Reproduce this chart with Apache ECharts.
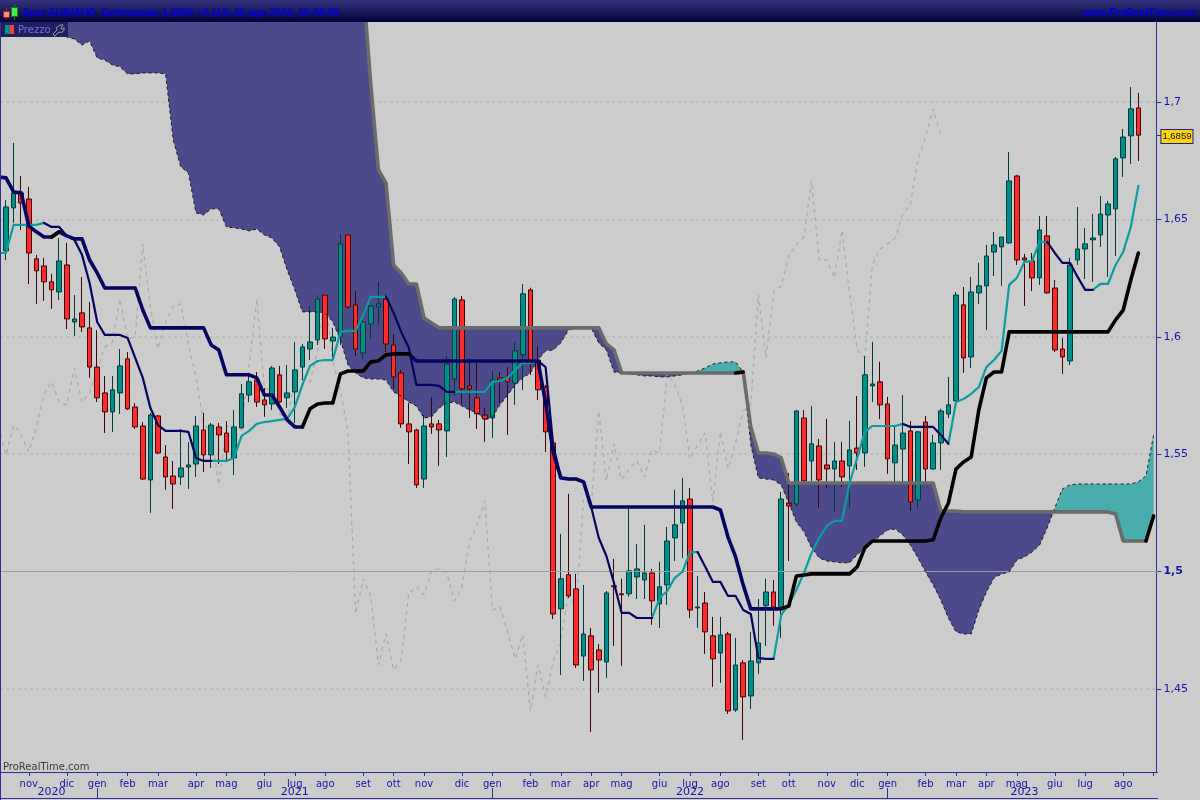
<!DOCTYPE html>
<html><head><meta charset="utf-8"><style>html,body{margin:0;padding:0;background:#ccc;overflow:hidden}#c{width:1200px;height:800px}</style>
<script src="https://cdn.jsdelivr.net/npm/echarts@6/dist/echarts.min.js"></script></head><body><div id="c"></div>
<script>
const open=[1.6366,1.6549,1.6613,1.6587,1.6332,1.6302,1.6234,1.6191,1.6306,1.6063,
1.6102,1.6038,1.5871,1.5761,1.5680,1.5761,1.5906,1.5701,1.5620,1.5390,
1.5663,1.5488,1.5407,1.5403,1.5445,1.5458,1.5603,1.5497,1.5616,1.5590,
1.5484,1.5612,1.5752,1.5816,1.5731,1.5714,1.5838,1.5740,1.5765,1.5871,
1.5948,1.5987,1.6178,1.5982,1.5999,1.6434,1.6136,1.5931,1.6055,1.6127,
1.6161,1.5965,1.5846,1.5629,1.5603,1.5394,1.5629,1.5629,1.5599,1.5820,
1.6157,1.5791,1.5740,1.5667,1.5654,1.5825,1.5825,1.5803,1.5923,1.6200,
1.5901,1.5786,1.5548,1.4841,1.4986,1.4926,1.4640,1.4726,1.4666,1.4615,
1.4939,1.4905,1.4905,1.4977,1.4964,1.4994,1.4862,1.4943,1.5143,1.5207,
1.5309,1.4845,1.4866,1.4726,1.4653,1.4734,1.4410,1.4611,1.4470,1.4611,
1.4854,1.4913,1.4849,1.5292,1.5288,1.5654,1.5471,1.5535,1.5454,1.5437,
1.5471,1.5450,1.5526,1.5505,1.5791,1.5808,1.5714,1.5463,1.5522,1.5599,
1.5305,1.5637,1.5437,1.5548,1.5671,1.5727,1.6136,1.5914,1.6187,1.6217,
1.6361,1.6383,1.6400,1.6685,1.6336,1.6323,1.6251,1.6430,1.6208,1.5948,
1.5897,1.6327,1.6374,1.6413,1.6434,1.6519,1.6545,1.6762,1.6856,1.6975];
const close=[1.6553,1.6613,1.6570,1.6357,1.6281,1.6234,1.6200,1.6323,1.6076,1.6076,
1.6042,1.5871,1.5740,1.5680,1.5774,1.5876,1.5693,1.5616,1.5394,1.5667,
1.5505,1.5403,1.5373,1.5441,1.5454,1.5620,1.5497,1.5624,1.5582,1.5509,
1.5616,1.5757,1.5808,1.5722,1.5710,1.5867,1.5722,1.5761,1.5859,1.5957,
1.5978,1.6161,1.5991,1.5999,1.6396,1.6127,1.5948,1.6063,1.6131,1.6140,
1.5969,1.5829,1.5629,1.5595,1.5369,1.5620,1.5616,1.5603,1.5884,1.6161,
1.5778,1.5778,1.5672,1.5650,1.5816,1.5816,1.5808,1.5940,1.6183,1.5897,
1.5774,1.5595,1.4819,1.4969,1.4896,1.4602,1.4734,1.4581,1.4623,1.4909,
1.4935,1.4901,1.5003,1.5011,1.4994,1.4875,1.4935,1.5130,1.5199,1.5301,
1.4836,1.4849,1.4743,1.4628,1.4730,1.4406,1.4602,1.4466,1.4619,1.4696,
1.4913,1.4849,1.5309,1.5279,1.5684,1.5386,1.5544,1.5390,1.5437,1.5471,
1.5403,1.5518,1.5505,1.5838,1.5799,1.5710,1.5480,1.5539,1.5590,1.5296,
1.5595,1.5437,1.5548,1.5684,1.5710,1.6178,1.5910,1.6191,1.6217,1.6344,
1.6391,1.6425,1.6664,1.6327,1.6327,1.6251,1.6455,1.6187,1.5944,1.5914,
1.6306,1.6374,1.6396,1.6421,1.6523,1.6566,1.6758,1.6851,1.6971,1.6859];
const low=[1.6327,1.6485,1.6455,1.6225,1.6140,1.6153,1.6119,1.6157,1.6033,1.6004,
1.6021,1.5825,1.5722,1.5590,1.5595,1.5671,1.5688,1.5607,1.5390,1.5250,
1.5501,1.5348,1.5267,1.5369,1.5352,1.5403,1.5424,1.5441,1.5458,1.5467,
1.5411,1.5610,1.5722,1.5701,1.5659,1.5688,1.5718,1.5697,1.5633,1.5816,
1.5901,1.5965,1.5948,1.5910,1.5965,1.6119,1.5918,1.5906,1.5991,1.6051,
1.5935,1.5778,1.5612,1.5458,1.5356,1.5356,1.5586,1.5450,1.5488,1.5748,
1.5714,1.5654,1.5607,1.5552,1.5569,1.5718,1.5582,1.5710,1.5774,1.5838,
1.5731,1.5509,1.4798,1.4559,1.4887,1.4589,1.4534,1.4317,1.4483,1.4547,
1.4683,1.4598,1.4892,1.4883,1.4883,1.4773,1.4760,1.4858,1.5045,1.5058,
1.4802,1.4760,1.4649,1.4509,1.4526,1.4393,1.4402,1.4283,1.4415,1.4564,
1.4683,1.4769,1.4717,1.5045,1.5275,1.5377,1.5386,1.5271,1.5356,1.5254,
1.5360,1.5271,1.5433,1.5446,1.5722,1.5650,1.5416,1.5377,1.5377,1.5258,
1.5267,1.5382,1.5433,1.5433,1.5654,1.5718,1.5846,1.5867,1.6140,1.6029,
1.6259,1.6217,1.6396,1.6306,1.6131,1.6195,1.6221,1.6183,1.5935,1.5842,
1.5880,1.6306,1.6246,1.6234,1.6383,1.6255,1.6344,1.6681,1.6736,1.6749];
const high=[1.6583,1.6826,1.6685,1.6639,1.6349,1.6336,1.6268,1.6421,1.6400,1.6178,
1.6255,1.6148,1.6029,1.5833,1.5833,1.5948,1.5935,1.5718,1.5637,1.5676,
1.5667,1.5539,1.5471,1.5607,1.5552,1.5663,1.5676,1.5633,1.5633,1.5641,
1.5688,1.5799,1.5846,1.5850,1.5782,1.5875,1.5876,1.5880,1.5978,1.5969,
1.6131,1.6178,1.6182,1.6038,1.6438,1.6436,1.6195,1.6068,1.6135,1.6234,
1.6183,1.6012,1.5859,1.5718,1.5608,1.5667,1.5744,1.5646,1.5918,1.6170,
1.6174,1.5906,1.5889,1.5697,1.5854,1.5850,1.5871,1.5978,1.6225,1.6209,
1.5961,1.5795,1.5582,1.5160,1.5331,1.4990,1.4943,1.4760,1.4692,1.4917,
1.5054,1.4969,1.5275,1.5117,1.5199,1.5011,1.5041,1.5190,1.5348,1.5399,
1.5356,1.4981,1.4913,1.4807,1.4807,1.4743,1.4717,1.4623,1.4743,1.4883,
1.4969,1.4964,1.5339,1.5420,1.5688,1.5688,1.5705,1.5565,1.5650,1.5552,
1.5552,1.5642,1.5748,1.5918,1.5978,1.5893,1.5744,1.5616,1.5752,1.5641,
1.5599,1.5663,1.5582,1.5693,1.5829,1.6191,1.6212,1.6255,1.6315,1.6391,
1.6447,1.6425,1.6787,1.6690,1.6353,1.6357,1.6515,1.6515,1.6242,1.5995,
1.6336,1.6553,1.6464,1.6523,1.6600,1.6579,1.6766,1.6885,1.7064,1.7039];
const tenkanLead=1.6357,kijunLead=1.6681,senkouALead=1.7371,senkouBLead=1.79;
const tenkan=[1.6357,1.6477,1.6477,1.6477,1.6477,1.6485,1.6468,1.6468,1.6430,1.6413,
1.6349,1.6229,1.6063,1.6008,1.6008,1.6008,1.5995,1.5910,1.5825,1.5697,
1.5624,1.5599,1.5599,1.5599,1.5595,1.5484,1.5471,1.5471,1.5471,1.5471,
1.5484,1.5578,1.5599,1.5629,1.5637,1.5641,1.5646,1.5650,1.5701,1.5795,
1.5876,1.5897,1.5901,1.5901,1.6021,1.6025,1.6025,1.6093,1.6170,1.6170,
1.6170,1.6102,1.6021,1.5953,1.5795,1.5795,1.5795,1.5791,1.5765,1.5765,
1.5765,1.5765,1.5765,1.5765,1.5808,1.5812,1.5825,1.5859,1.5889,1.5889,
1.5897,1.5871,1.5539,1.5399,1.5394,1.5394,1.5382,1.5275,1.5143,1.5066,
1.4951,1.4824,1.4824,1.4802,1.4802,1.4802,1.4887,1.4917,1.4973,1.4998,
1.5083,1.5083,1.5020,1.4956,1.4956,1.4896,1.4896,1.4836,1.4819,1.4632,
1.4628,1.4628,1.4815,1.4858,1.4922,1.4994,1.5079,1.5143,1.5194,1.5216,
1.5216,1.5377,1.5484,1.5595,1.5620,1.5620,1.5620,1.5620,1.5629,1.5616,
1.5616,1.5616,1.5616,1.5582,1.5544,1.5722,1.5735,1.5757,1.5786,1.5871,
1.5901,1.5940,1.6221,1.6251,1.6319,1.6323,1.6404,1.6404,1.6357,1.6315,
1.6315,1.6255,1.6200,1.6200,1.6225,1.6225,1.6306,1.6361,1.6468,1.6643];
const kijun=[1.6677,1.6617,1.6613,1.6472,1.6447,1.6425,1.6425,1.6447,1.6430,1.6417,
1.6417,1.6327,1.6272,1.6208,1.6208,1.6208,1.6208,1.6208,1.6114,1.6038,
1.6038,1.6038,1.6038,1.6038,1.6038,1.6038,1.6038,1.5965,1.5944,1.5838,
1.5838,1.5838,1.5838,1.5825,1.5752,1.5752,1.5701,1.5646,1.5616,1.5616,
1.5693,1.5714,1.5718,1.5718,1.5842,1.5854,1.5854,1.5854,1.5893,1.5897,
1.5923,1.5927,1.5927,1.5927,1.5897,1.5897,1.5897,1.5897,1.5897,1.5897,
1.5897,1.5897,1.5897,1.5897,1.5897,1.5897,1.5897,1.5897,1.5897,1.5897,
1.5897,1.5718,1.5509,1.5399,1.5394,1.5394,1.5382,1.5275,1.5275,1.5275,
1.5275,1.5275,1.5275,1.5275,1.5275,1.5275,1.5275,1.5275,1.5275,1.5275,
1.5275,1.5275,1.5275,1.5275,1.5262,1.5147,1.5062,1.4943,1.4841,1.4841,
1.4841,1.4841,1.4841,1.4853,1.4981,1.4985,1.4990,1.4990,1.4990,1.4990,
1.4990,1.4990,1.5020,1.5101,1.5130,1.5130,1.5130,1.5130,1.5130,1.5130,
1.5130,1.5130,1.5135,1.5228,1.5292,1.5437,1.5467,1.5488,1.5688,1.5825,
1.5850,1.5850,1.6021,1.6021,1.6021,1.6021,1.6021,1.6021,1.6021,1.6021,
1.6021,1.6021,1.6021,1.6021,1.6021,1.6021,1.6072,1.6114,1.6242,1.6357];
const senkouA=[1.7371,1.7371,1.7350,1.7341,1.7329,1.7316,1.7307,1.7294,1.7277,1.7269,
1.7243,1.7260,1.7188,1.7179,1.7158,1.7150,1.7120,1.7120,1.7124,1.7124,
1.7124,1.7120,1.6839,1.6724,1.6698,1.6528,1.6519,1.6545,1.6545,1.6468,
1.6464,1.6459,1.6451,1.6459,1.6434,1.6421,1.6383,1.6285,1.6200,1.6106,
1.6106,1.6106,1.6102,1.6063,1.5987,1.5880,1.5846,1.5825,1.5820,1.5820,
1.5816,1.5765,1.5748,1.5722,1.5705,1.5654,1.5659,1.5697,1.5718,1.5722,
1.5705,1.5688,1.5676,1.5646,1.5659,1.5710,1.5752,1.5795,1.5825,1.5846,
1.5901,1.5940,1.5944,1.5974,1.6029,1.6038,1.6038,1.6038,1.5974,1.5944,
1.5850,1.5846,1.5842,1.5838,1.5833,1.5833,1.5829,1.5829,1.5833,1.5838,
1.5846,1.5854,1.5867,1.5884,1.5889,1.5893,1.5893,1.5850,1.5539,1.5399,
1.5394,1.5390,1.5369,1.5292,1.5211,1.5169,1.5101,1.5058,1.5045,1.5041,
1.5037,1.5037,1.5071,1.5101,1.5126,1.5152,1.5177,1.5181,1.5156,1.5113,
1.5058,1.4998,1.4943,1.4879,1.4802,1.4743,1.4734,1.4734,1.4836,1.4913,
1.4973,1.4990,1.4998,1.5049,1.5062,1.5083,1.5113,1.5186,1.5271,1.5352,
1.5369,1.5373,1.5373,1.5373,1.5373,1.5373,1.5373,1.5373,1.5373,1.5382,
1.5407,1.5582];
const senkouB=[1.79,1.79,1.79,1.79,1.79,1.79,1.79,1.79,1.79,1.79,
1.79,1.79,1.79,1.79,1.79,1.79,1.79,1.79,1.79,1.79,
1.79,1.79,1.79,1.79,1.79,1.79,1.79,1.79,1.79,1.79,
1.79,1.79,1.79,1.79,1.79,1.79,1.79,1.79,1.79,1.79,
1.79,1.79,1.79,1.79,1.79,1.79,1.79,1.7499,1.7073,1.6711,
1.6655,1.6306,1.6272,1.6225,1.6225,1.6080,1.6059,1.6038,1.6038,1.6038,
1.6038,1.6038,1.6038,1.6038,1.6038,1.6038,1.6038,1.6038,1.6038,1.6038,
1.6038,1.6038,1.6038,1.6038,1.6038,1.6038,1.6038,1.6038,1.6038,1.5970,
1.5944,1.5846,1.5846,1.5846,1.5846,1.5846,1.5846,1.5846,1.5846,1.5846,
1.5846,1.5846,1.5846,1.5846,1.5846,1.5846,1.5846,1.5850,1.5616,1.5505,
1.5505,1.5501,1.5484,1.5377,1.5377,1.5377,1.5377,1.5377,1.5377,1.5377,
1.5377,1.5377,1.5377,1.5377,1.5377,1.5377,1.5377,1.5377,1.5377,1.5377,
1.5377,1.5377,1.5377,1.5258,1.5258,1.5258,1.5254,1.5254,1.5254,1.5254,
1.5254,1.5254,1.5254,1.5254,1.5254,1.5254,1.5254,1.5254,1.5254,1.5254,
1.5254,1.5254,1.5254,1.5254,1.5254,1.5254,1.5245,1.5130,1.5130,1.5130,
1.5130,1.5237];
const chikouShift=26;
const tenkanTeal=[[-1,5],[27,50],[59,70],[85,91],[101,118],[124,137],[143,149]];
const tenkanNavy=[[5,27],[50,59],[70,85],[91,101],[118,124],[137,143]];
const kijunBlack=[[6,7],[39,53],[102,149]];
const kijunNavy=[[-1,6],[7,39],[53,102]];
const spanBGray=[[47,96],[97,150]];
const spanBBlack=[[96,97],[150,151]];
const monthIndex=[3,8,12,16,20,25,29,34,38,42,47,51,55,60,64,69,73,77,81,86,90,94,99,103,108,112,116,121,125,129,133,138,142,147,151];
const monthNames=['nov','dic','gen','feb','mar','apr','mag','giu','lug','ago','set','ott','nov','dic','gen','feb','mar','apr','mag','giu','lug','ago','set','ott','nov','dic','gen','feb','mar','apr','mag','giu','lug','ago',''];
const yearIndex=[6,38,90,134];
const yearNames=['2020','2021','2022','2023'];
const yearTickIndex=[12,64,116];
const yTicks=[1.45,1.5,1.55,1.6,1.65,1.7];
const yDottedLevels=[1.45,1.55,1.6,1.65,1.7];
const ySolidLevel=1.5;
const yTickTexts=['1,45','{b|1,5}','1,55','1,6','1,65','1,7'];
const lastPrice=1.6859, lastPriceText='1,6859';
const yMin=1.4146,yMax=1.7341;

const slots=153; // one leading slot left of the first candle, so lines run off the left edge
const blue='#1414a8',axisNavy='#2f2f96',teal='#0a9e9e',navy='#05055f',red='#ff2a2a';
const idx=Array.from({length:slots},(_,k)=>k-1);
const monthSlots=monthIndex.map(i=>i+1), yearSlots=yearIndex.map(i=>i+1), yearTickSlots=yearTickIndex.map(i=>i+1);
const mLabels=idx.map(i=>{const k=monthIndex.indexOf(i);return k<0?'':monthNames[k];});
const yLabels=idx.map(i=>{const k=yearIndex.indexOf(i);return k<0?'':yearNames[k];});
const T=[tenkanLead].concat(tenkan),K=[kijunLead].concat(kijun),A=[senkouALead].concat(senkouA),B=[senkouBLead].concat(senkouB);
const pick=(vals,ranges)=>vals.map((v,k)=>ranges.some(r=>k-1>=r[0]&&k-1<=r[1])?v:null);
const chikou=close.slice(chikouShift-1);

function cloudRuns(){
  const runs=[];let cur=null;
  for(let i=0;i<slots-1;i++){
    const d0=A[i]-B[i],d1=A[i+1]-B[i+1];
    if(!cur){cur={bull:d0>0,a:[[i,A[i]]],b:[[i,B[i]]]};}
    if(d1!==0&&(d1>0)!==cur.bull){
      const t=d0===0?0:Math.max(0,d0/(d0-d1)),v=A[i]+t*(A[i+1]-A[i]);
      if(t>0){cur.a.push([i+t,v]);cur.b.push([i+t,v]);}
      runs.push(cur);
      cur={bull:d1>0,a:[[i+t,v]],b:[[i+t,v]]};
    }
    cur.a.push([i+1,A[i+1]]);cur.b.push([i+1,B[i+1]]);
  }
  runs.push(cur);return runs;
}
const runs=cloudRuns();
function px(api,p){
  const x0=Math.floor(p[0]),f=p[0]-x0,c0=api.coord([x0,p[1]]);
  if(!f)return c0;
  const c1=api.coord([x0+1,p[1]]);
  return [c0[0]+f*(c1[0]-c0[0]),c0[1]];
}
const lineS=(name,data,color,width,z,extra)=>Object.assign({name,type:'line',data,symbol:'none',showSymbol:false,z,silent:true,connectNulls:false,
  lineStyle:{color,width,join:'round',cap:'round'},animation:false},extra||{});

const chart=echarts.init(document.getElementById('c'),null,{renderer:'canvas'});
chart.setOption({
  animation:false,backgroundColor:'#cccccc',
  textStyle:{fontFamily:'DejaVu Sans'},
  grid:{left:-5.4,top:22,width:1162.8,height:750,containLabel:false,outerBoundsMode:'none'},
  xAxis:[{type:'category',data:mLabels,boundaryGap:true,position:'bottom',
      axisLine:{show:true,lineStyle:{color:axisNavy,width:1}},
      axisTick:{show:true,alignWithLabel:true,length:4,interval:(i)=>monthSlots.includes(i),lineStyle:{color:axisNavy}},
      axisLabel:{show:true,interval:(i)=>monthSlots.includes(i),color:blue,fontSize:10,margin:7,fontFamily:'DejaVu Sans',hideOverlap:false},
      splitLine:{show:false}},
    {type:'category',data:yLabels,boundaryGap:true,position:'bottom',offset:26,
      axisLine:{show:true,lineStyle:{color:axisNavy,width:1}},
      axisTick:{show:true,alignWithLabel:true,inside:true,length:10,interval:(i)=>yearTickSlots.includes(i),lineStyle:{color:axisNavy}},
      axisLabel:{show:true,inside:true,margin:0,interval:(i)=>yearSlots.includes(i),color:blue,fontSize:11,fontFamily:'DejaVu Sans',hideOverlap:false},
      splitLine:{show:false}}],
  yAxis:[{type:'value',position:'right',offset:-1,min:yMin,max:yMax,scale:true,
    axisLine:{show:true,lineStyle:{color:axisNavy,width:1}},
    axisTick:{show:true,length:5,customValues:yTicks,lineStyle:{color:axisNavy}},
    axisLabel:{show:true,customValues:yTicks,color:blue,fontSize:11,margin:7,fontFamily:'DejaVu Sans',
      formatter:(v)=>yTickTexts[yTicks.findIndex(t=>Math.abs(t-v)<1e-6)]||'',
      rich:{b:{fontWeight:'bold',color:blue,fontSize:11,fontFamily:'DejaVu Sans'}}},
    splitLine:{show:false}},
   {type:'value',position:'right',offset:-1,min:yMin,max:yMax,scale:true,
    axisLine:{show:false},axisLabel:{show:false},splitLine:{show:false},
    axisTick:{show:true,length:5,customValues:[lastPrice],lineStyle:{color:axisNavy}}},
   {type:'value',position:'right',offset:-1,min:yMin,max:yMax,scale:true,
    axisLine:{show:false},axisLabel:{show:false},
    axisTick:{show:false,customValues:yDottedLevels},
    splitLine:{show:true,lineStyle:{color:'#b9b9b9',type:[2,4],width:2}}}],
  series:[
    {name:'Kumo',type:'custom',clip:true,z:2,silent:true,data:runs.map((_,k)=>[k]),encode:{x:-1,y:-1},
      renderItem:(params,api)=>{
        const r=runs[params.dataIndex];
        const pts=r.a.concat(r.b.slice().reverse()).map(p=>px(api,p));
        return {type:'polygon',shape:{points:pts},style:{fill:r.bull?'rgba(63,170,170,0.92)':'rgba(65,63,132,0.92)',stroke:null}};
      }},
    lineS('Chikou',chikou,'#acacac',1.3,3,{lineStyle:{color:'#acacac',width:1.3,type:[4,4]},
      markLine:{silent:true,symbol:'none',animation:false,label:{show:false},lineStyle:{color:'#9c9c9c',width:1,type:'solid'},data:[{yAxis:ySolidLevel}]}}),
    {name:'Prezzo',type:'candlestick',z:4,silent:true,barWidth:5,
      data:[['-','-','-','-']].concat(open.map((o,i)=>[o,close[i],low[i],high[i]])),
      itemStyle:{color:'#009088',color0:red,borderColor:'#013a3a',borderColor0:'#3c0606',borderWidth:1}},
    lineS('LastPrice',idx.map(()=>null),'transparent',0,9,{
      markLine:{silent:true,symbol:'none',animation:false,z:10,lineStyle:{color:'transparent',width:0},
        label:{show:true,position:'end',distance:4,offset:[0,11],formatter:lastPriceText,color:'#101010',fontSize:9.5,fontFamily:'Liberation Sans',backgroundColor:'#ffd400',borderColor:'#1e1e96',borderWidth:1,padding:[2,1,1,1]},
        data:[{yAxis:lastPrice}]}}),
    lineS('SenkouA',A,'#1a1a1a',1,5,{lineStyle:{color:'#1a1a1a',width:1,type:[3,3]}}),
    lineS('SenkouB',pick(B,spanBGray),'#6b6b6b',3.6,6),
    lineS('SenkouB2',pick(B,spanBBlack),'#000000',3.6,6),
    lineS('Tenkan',pick(T,tenkanTeal),teal,2.2,7),
    lineS('Tenkan2',pick(T,tenkanNavy),navy,2.2,7),
    lineS('Kijun',pick(K,kijunNavy),navy,3.6,8),
    lineS('Kijun2',pick(K,kijunBlack),'#000000',3.6,8)
  ],
  graphic:{elements:[
    {type:'rect',z:100,shape:{x:0,y:0,width:1200,height:21},style:{fill:new echarts.graphic.LinearGradient(0,0,0,1,[{offset:0,color:'#33337f'},{offset:1,color:'#05053a'}])}},
    {type:'rect',z:100,shape:{x:0,y:21,width:1200,height:1},style:{fill:'#000048'}},
    {type:'line',z:101,shape:{x1:6.5,y1:8,x2:6.5,y2:20},style:{stroke:'#a02020'}},
    {type:'rect',z:101,shape:{x:3.5,y:11.5,width:6,height:6},style:{fill:'#ff8a80',stroke:'#a02020'}},
    {type:'line',z:101,shape:{x1:14.5,y1:4,x2:14.5,y2:20},style:{stroke:'#108010'}},
    {type:'rect',z:101,shape:{x:11.5,y:7.5,width:6,height:9},style:{fill:'#44ee44',stroke:'#108010'}},
    {type:'text',z:101,style:{x:23,y:13,text:'Spot EUR/AUD  Settimanale 1,6859 +0,11% 25 ago 2023, 22:59:59',fill:'#0000e6',font:'bold 10.3px "Liberation Sans"',verticalAlign:'middle'}},
    {type:'text',z:101,style:{x:1196,y:13,text:'www.ProRealTime.com',fill:'#0000e6',font:'bold 10.3px "Liberation Sans"',align:'right',verticalAlign:'middle'}},
    {type:'rect',z:100,shape:{x:1,y:22,width:67,height:15},style:{fill:'#20205c'}},
    {type:'rect',z:101,shape:{x:5,y:25,width:5,height:9},style:{fill:'#009088'}},
    {type:'rect',z:101,shape:{x:10,y:25,width:4,height:9},style:{fill:'#ff3a3a'}},
    {type:'text',z:101,style:{x:18,y:30,text:'Prezzo',fill:'#7070f4',font:'10px "DejaVu Sans"',verticalAlign:'middle'}},
    {type:'polyline',z:101,shape:{points:[[60,25],[63,25],[61,28],[62,29.5],[64,27.5],[64,30.5],[61.5,32.5],[59,32],[55,36],[53,34],[57,30],[56.5,27.5],[60,25]]},style:{fill:'none',stroke:'#9a9aa6',lineWidth:1}},
    {type:'rect',z:100,shape:{x:0,y:22,width:1,height:778},style:{fill:axisNavy}},
    {type:'text',z:100,style:{x:3,y:767,text:'ProRealTime.com',fill:'#3c3c3c',font:'10px "DejaVu Sans"',verticalAlign:'middle'}}
  ]}
});
</script></body></html>
